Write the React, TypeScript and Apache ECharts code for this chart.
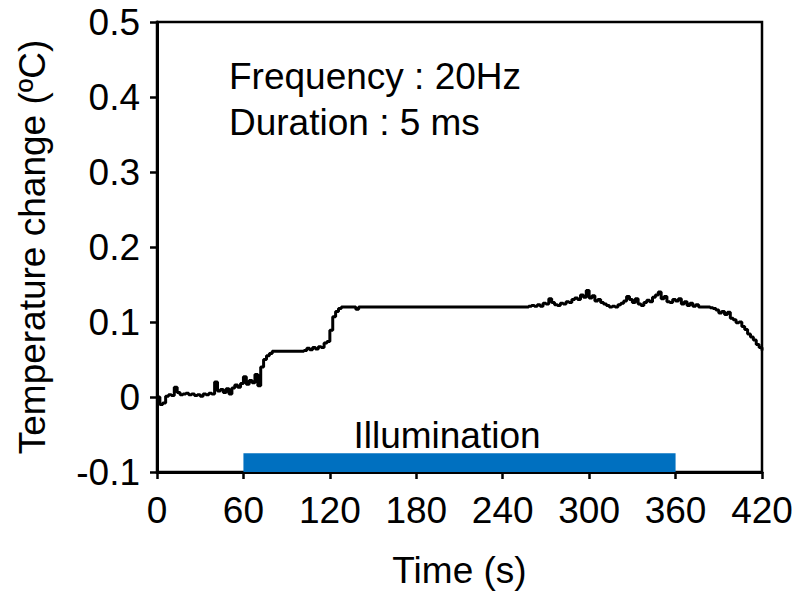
import React, { useEffect, useRef } from "react";
import * as echarts from "echarts";

const xTicks = [0, 60, 120, 180, 240, 300, 360, 420];
const yTicks = [-0.1, 0, 0.1, 0.2, 0.3, 0.4, 0.5];
const sampleStep = 2; // seconds between samples
const temperature = [
  0.000, -0.010, -0.008, 0.001, 0.003, 0.002, 0.013, 0.006, 0.003, 0.004,
  0.005, 0.003, 0.004, 0.002, 0.003, 0.001, 0.004, 0.003, 0.005, 0.004,
  0.020, 0.008, 0.010, 0.006, 0.011, 0.004, 0.012, 0.016, 0.013, 0.018,
  0.027, 0.017, 0.022, 0.019, 0.030, 0.015, 0.040, 0.050, 0.055, 0.058,
  0.061, 0.061, 0.061, 0.061, 0.061, 0.061, 0.061, 0.061, 0.061, 0.061,
  0.061, 0.062, 0.065, 0.063, 0.066, 0.064, 0.067, 0.066, 0.072, 0.074,
  0.089, 0.107, 0.114, 0.118, 0.120, 0.120, 0.120, 0.120, 0.120, 0.117,
  0.120, 0.120, 0.120, 0.120, 0.120, 0.120, 0.120, 0.120, 0.120, 0.120,
  0.120, 0.120, 0.120, 0.120, 0.120, 0.120, 0.120, 0.120, 0.120, 0.120,
  0.120, 0.120, 0.120, 0.120, 0.120, 0.120, 0.120, 0.120, 0.120, 0.120,
  0.120, 0.120, 0.120, 0.120, 0.120, 0.120, 0.120, 0.120, 0.120, 0.120,
  0.120, 0.120, 0.120, 0.120, 0.120, 0.120, 0.120, 0.120, 0.120, 0.120,
  0.120, 0.120, 0.120, 0.120, 0.120, 0.120, 0.120, 0.120, 0.120, 0.121,
  0.122, 0.121, 0.123, 0.121, 0.125, 0.124, 0.131, 0.126, 0.123, 0.122,
  0.125, 0.124, 0.127, 0.126, 0.130, 0.132, 0.130, 0.136, 0.133, 0.142,
  0.132, 0.135, 0.128, 0.130, 0.126, 0.124, 0.122, 0.120, 0.121, 0.120,
  0.123, 0.125, 0.128, 0.134, 0.130, 0.126, 0.131, 0.124, 0.122, 0.126,
  0.129, 0.127, 0.133, 0.136, 0.140, 0.131, 0.134, 0.127, 0.126, 0.130,
  0.128, 0.131, 0.124, 0.127, 0.122, 0.125, 0.121, 0.123, 0.120, 0.120,
  0.120, 0.120, 0.119, 0.118, 0.116, 0.112, 0.114, 0.110, 0.113, 0.105,
  0.103, 0.099, 0.100, 0.094, 0.090, 0.084, 0.080, 0.076, 0.070, 0.066,
  0.062,
];
const illumination = { start: 60, end: 360, bottom: -0.1, top: -0.075, label: "Illumination" };
const annotations = ["Frequency : 20Hz", "Duration : 5 ms"];

const FONT = "'Liberation Sans', Arial, sans-serif";

export default function App() {
  const ref = useRef<HTMLDivElement>(null);
  useEffect(() => {
    if (!ref.current) return;
    const chart = echarts.init(ref.current, null, { renderer: "svg" });
    const data = temperature.map((v, i) => [i * sampleStep, v]);
    chart.setOption({
      animation: false,
      backgroundColor: "#fff",
      textStyle: { fontFamily: FONT },
      grid: {
        left: 157, right: 35, top: 22, bottom: 123,
        show: true, borderColor: "#000", borderWidth: 2.5, backgroundColor: "transparent",
      },
      xAxis: {
        type: "value", min: 0, max: 420, interval: 60,
        axisLine: { show: true, onZero: false, lineStyle: { color: "#000", width: 3 } },
        axisTick: { show: true, inside: false, length: 7, lineStyle: { color: "#000", width: 2.5 } },
        axisLabel: {
          color: "#000", fontSize: 37, fontFamily: FONT, margin: 20,
          formatter: (v: number) => (xTicks.includes(v) ? String(v) : ""),
        },
        splitLine: { show: false },
        name: "Time (s)", nameLocation: "middle", nameGap: 80,
        nameTextStyle: { color: "#000", fontSize: 37, fontFamily: FONT },
      },
      yAxis: {
        type: "value", min: -0.1, max: 0.5, interval: 0.1,
        axisLine: { show: true, onZero: false, lineStyle: { color: "#000", width: 3 } },
        axisTick: { show: true, inside: false, length: 7, lineStyle: { color: "#000", width: 2.5 } },
        axisLabel: {
          color: "#000", fontSize: 37, fontFamily: FONT, margin: 17,
          formatter: (v: number) => {
            const r = Math.round(v * 10) / 10;
            return yTicks.includes(r) ? String(r) : "";
          },
        },
        splitLine: { show: false },
        name: "Temperature change (ºC)", nameLocation: "middle", nameGap: 106,
        nameTextStyle: { color: "#000", fontSize: 37, fontFamily: FONT },
      },
      series: [
        {
          type: "line",
          data,
          showSymbol: false,
          symbol: "none",
          step: "end",
          lineStyle: { color: "#000", width: 3 },
          z: 3,
          markArea: {
            silent: true,
            itemStyle: { color: "#0070C0", opacity: 1 },
            data: [[
              { coord: [illumination.start, illumination.bottom] },
              { coord: [illumination.end, illumination.top] },
            ]],
          },
        },
      ],
      graphic: [
        { type: "text", left: 229, top: 58, style: { text: annotations[0], fontSize: 37, fontFamily: FONT, fill: "#000" } },
        { type: "text", left: 229, top: 104, style: { text: annotations[1], fontSize: 37, fontFamily: FONT, fill: "#000" } },
        { type: "text", x: 447, y: 435, style: { text: illumination.label, fontSize: 37, fontFamily: FONT, fill: "#000", align: "center", verticalAlign: "middle" } },
      ],
    });
    return () => chart.dispose();
  }, []);
  return <div ref={ref} style={{ position: "fixed", left: 0, top: 0, width: 797, height: 595 }} />;
}
